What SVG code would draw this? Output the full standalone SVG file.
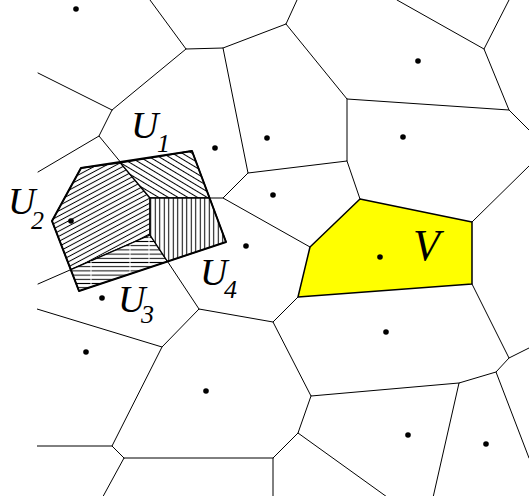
<svg xmlns="http://www.w3.org/2000/svg" width="529" height="502" viewBox="0 0 529 502">
<style>
.e{stroke:#000;stroke-width:1;fill:none;stroke-linecap:round}
.site{fill:#000}
.lab{font-family:"Liberation Serif","Times New Roman",serif;font-style:italic;fill:#000}
.reg{stroke:#000;stroke-width:1.3;stroke-linejoin:round}
</style>
<defs>
<clipPath id="frame"><rect x="37" y="0" width="492" height="496"/></clipPath>
<pattern id="hU2" patternUnits="userSpaceOnUse" width="10" height="4.5" patternTransform="rotate(-28)"><rect width="10" height="4.5" fill="#fff"/><line x1="0" y1="2.25" x2="10" y2="2.25" stroke="#000" stroke-width="1"/></pattern>
<pattern id="hU1" patternUnits="userSpaceOnUse" width="10" height="5" patternTransform="rotate(31)"><rect width="10" height="5" fill="#fff"/><line x1="0" y1="2.5" x2="10" y2="2.5" stroke="#000" stroke-width="1"/></pattern>
<pattern id="hU4" patternUnits="userSpaceOnUse" width="4.5" height="10"><rect width="4.5" height="10" fill="#fff"/><line x1="2.25" y1="0" x2="2.25" y2="10" stroke="#000" stroke-width="1"/></pattern>
<pattern id="hU3" patternUnits="userSpaceOnUse" width="10" height="4.2"><rect width="10" height="4.2" fill="#fff"/><line x1="0" y1="2.1" x2="10" y2="2.1" stroke="#000" stroke-width="1"/></pattern>
</defs>
<rect width="529" height="502" fill="#fff"/>

<g id="cellV">
<polygon points="360,199 472,222 472,284 298,297 310,247" fill="#ffff00" stroke="#000" stroke-width="1.5" stroke-linejoin="round"/>
</g>

<g id="edges" clip-path="url(#frame)">
<path class="e" d="M150,0 L186,49 L223,48 L286,24 L297,0"/>
<path class="e" d="M286,24 L347,99 L509,110 L484,49 L509,0"/>
<path class="e" d="M484,49 L397,0"/>
<path class="e" d="M509,110 L529,130"/>
<path class="e" d="M347,99 L347,161 L248,173 L223,48"/>
<path class="e" d="M248,173 L223,198 L310,247"/>
<path class="e" d="M347,161 L360,199"/>
<path class="e" d="M472,222 L529,166"/>
<path class="e" d="M472,284 L509,358 L529,348"/>
<path class="e" d="M509,358 L496,372 L529,458"/>
<path class="e" d="M496,372 L459,383 L432,502"/>
<path class="e" d="M459,383 L311,396 L273,322 L298,297"/>
<path class="e" d="M273,322 L199,309 L162,347 L37,309"/>
<path class="e" d="M311,396 L298,433 L394,502"/>
<path class="e" d="M298,433 L273,458 L273,502"/>
<path class="e" d="M273,458 L124,458 L100,502"/>
<path class="e" d="M124,458 L112,446 L162,347"/>
<path class="e" d="M112,446 L37,446"/>
<path class="e" d="M199,309 L150,235 L38,284"/>
<path class="e" d="M150,235 L150,198 L223,198"/>
<path class="e" d="M150,198 L99,136 L38,172"/>
<path class="e" d="M99,136 L112,110 L186,49"/>
<path class="e" d="M112,110 L38,73"/>
</g>

<g id="cellU">
<polygon id="regU2" class="reg" points="81,168 120.4,162.9 150,198 150,235 70.8,269.7 52,221" fill="url(#hU2)"/>
<polygon id="regU1" class="reg" points="120.4,162.9 192,151 209.6,198 150,198" fill="url(#hU1)"/>
<polygon id="regU3" class="reg" points="70.8,269.7 150,235 167.5,261.5 79,291" fill="url(#hU3)"/>
<g stroke="#fff" stroke-width="1">
<line x1="91" y1="261" x2="91" y2="286"/>
<line x1="130" y1="245" x2="130" y2="273"/>
<line x1="149" y1="237" x2="149" y2="266"/>
</g>
<polygon id="regU4" class="reg" points="150,198 209.6,198 226,242 167.5,261.5 150,235" fill="url(#hU4)"/>
<polygon points="81,168 192,151 226,242 79,291 52,221" fill="none" stroke="#000" stroke-width="2" stroke-linejoin="round"/>
</g>

<g id="sites">
<circle class="site" cx="76" cy="9" r="2.8"/>
<circle class="site" cx="215" cy="148" r="2.8"/>
<circle class="site" cx="267" cy="138" r="2.8"/>
<circle class="site" cx="418" cy="61" r="2.8"/>
<circle class="site" cx="403" cy="137" r="2.8"/>
<circle class="site" cx="273" cy="195" r="2.8"/>
<circle class="site" cx="246" cy="246" r="2.8"/>
<circle class="site" cx="71" cy="221" r="2.8"/>
<circle class="site" cx="102" cy="298" r="2.8"/>
<circle class="site" cx="86" cy="352" r="2.8"/>
<circle class="site" cx="206" cy="391" r="2.8"/>
<circle class="site" cx="380" cy="257" r="2.8"/>
<circle class="site" cx="386" cy="332" r="2.8"/>
<circle class="site" cx="408" cy="435" r="2.8"/>
<circle class="site" cx="486" cy="444" r="2.8"/>
</g>

<g id="labels">
<text class="lab" x="131" y="138" font-size="38">U</text><text class="lab" x="157" y="152" font-size="26">1</text>
<text class="lab" x="8" y="214" font-size="38">U</text><text class="lab" x="31" y="229" font-size="26">2</text>
<text class="lab" x="118" y="312" font-size="38">U</text><text class="lab" x="141" y="323" font-size="26">3</text>
<text class="lab" x="200" y="285" font-size="38">U</text><text class="lab" x="224" y="298" font-size="26">4</text>
<text class="lab" x="413" y="260" font-size="44">V</text>
</g>
</svg>
